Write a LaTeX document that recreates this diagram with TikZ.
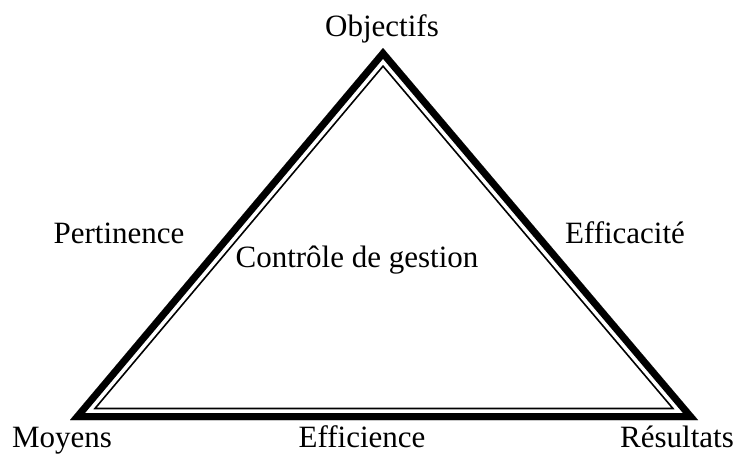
\documentclass[tikz,border=0pt]{standalone}
\usepackage{fontspec}
\setmainfont{Liberation Serif}
\usetikzlibrary{positioning,calc}

\begin{document}
\begin{tikzpicture}[x=1pt,y=-1pt,font=\fontsize{31}{35}\selectfont]
\tikzstyle{lbl}=[inner sep=0pt,anchor=base]
\useasboundingbox (0,0) rectangle (734,455);
\coordinate (obj) at (383,48);
\coordinate (moy) at (70,420);
\coordinate (res) at (698,420);
% triangle: thick outer line, thin inner line
\begin{scope}
\clip (obj) -- (moy) -- (res) -- cycle;
\draw[line width=25pt,line join=miter] (obj) -- (moy) -- (res) -- cycle;
\draw[white,line width=21.5pt,line join=miter] (obj) -- (moy) -- (res) -- cycle;
\draw[line width=14pt,line join=miter] (obj) -- (moy) -- (res) -- cycle;
\end{scope}
\node[lbl] (objectifs) at (382,36) {Objectifs};
\node[lbl] (pertinence) at (119,243) {Pertinence};
\node[lbl] (efficacite) at (625,243) {Efficacité};
\node[lbl] (controle) at (357,267) {Contrôle de gestion};
\node[lbl] (moyens) at (62,447) {Moyens};
\node[lbl] (efficience) at (362,447) {Efficience};
\node[lbl] (resultats) at (677,447) {Résultats};
\end{tikzpicture}
\end{document}
